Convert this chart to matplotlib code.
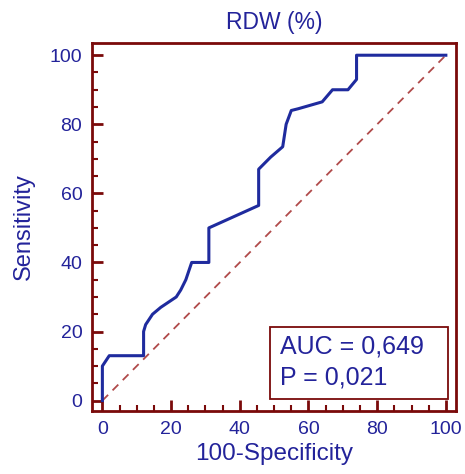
import matplotlib
matplotlib.use("Agg")
import matplotlib.pyplot as plt
from matplotlib.patches import Rectangle
from matplotlib.ticker import MultipleLocator

# ROC curve points
fpr = [0, 0, 2, 12, 12, 12.6, 14.6, 17, 21.5, 22.8, 24.3, 26, 31, 31, 45.5, 45.5,
       49, 52.5, 53.5, 55, 57, 64, 67, 71.5, 74, 74, 100]
tpr = [0, 10, 13, 13, 20, 22, 25, 27, 30, 32, 35, 40, 40, 50, 56.5, 67,
       70.5, 73.5, 80, 84, 84.5, 86.5, 90, 90, 93, 100, 100]
diag = [0, 100]
title = "RDW (%)"
auc_text = "AUC = 0,649"
p_text = "P = 0,021"

BLUE = "#23239a"
LINE = "#1f2b9e"
RED = "#7a0a0a"
DASH = "#b04a4a"

plt.rcParams["font.family"] = ["Liberation Sans", "DejaVu Sans"]

fig = plt.figure(figsize=(4.65, 4.74), dpi=100)
ax = fig.add_axes([0.198, 0.133, 0.783, 0.776])

ax.plot(diag, diag, color=DASH, lw=1.3, ls=(0, (4.5, 3.5)))
ax.plot(fpr, tpr, color=LINE, lw=2.2, solid_joinstyle="round")

ax.set_xlim(-3, 103)
ax.set_ylim(-3, 103.5)
ax.xaxis.set_major_locator(MultipleLocator(20))
ax.xaxis.set_minor_locator(MultipleLocator(5))
ax.yaxis.set_major_locator(MultipleLocator(20))
ax.yaxis.set_minor_locator(MultipleLocator(5))
ax.tick_params(which="major", direction="in", length=8, width=2, color=RED,
               labelsize=14, labelcolor=BLUE, pad=7)
ax.tick_params(which="minor", direction="in", length=4, width=1.5, color=RED)
for s in ax.spines.values():
    s.set_color(RED)
    s.set_linewidth(2)

ax.set_title(title, color=BLUE, fontsize=16.5, pad=10)
ax.set_xlabel("100-Specificity", color=BLUE, fontsize=17.5, labelpad=4)
ax.set_ylabel("Sensitivity", color=BLUE, fontsize=17, labelpad=11)

ax.add_patch(Rectangle((0.489, 0.033), 0.489, 0.195, transform=ax.transAxes,
                       fill=True, facecolor="white", edgecolor=RED, lw=1.3, zorder=5))
ax.text(0.516, 0.174, auc_text, transform=ax.transAxes, color=BLUE,
        fontsize=18, va="center", zorder=6)
ax.text(0.516, 0.092, p_text, transform=ax.transAxes, color=BLUE,
        fontsize=18, va="center", zorder=6)

fig.savefig("out.png", dpi=100)
